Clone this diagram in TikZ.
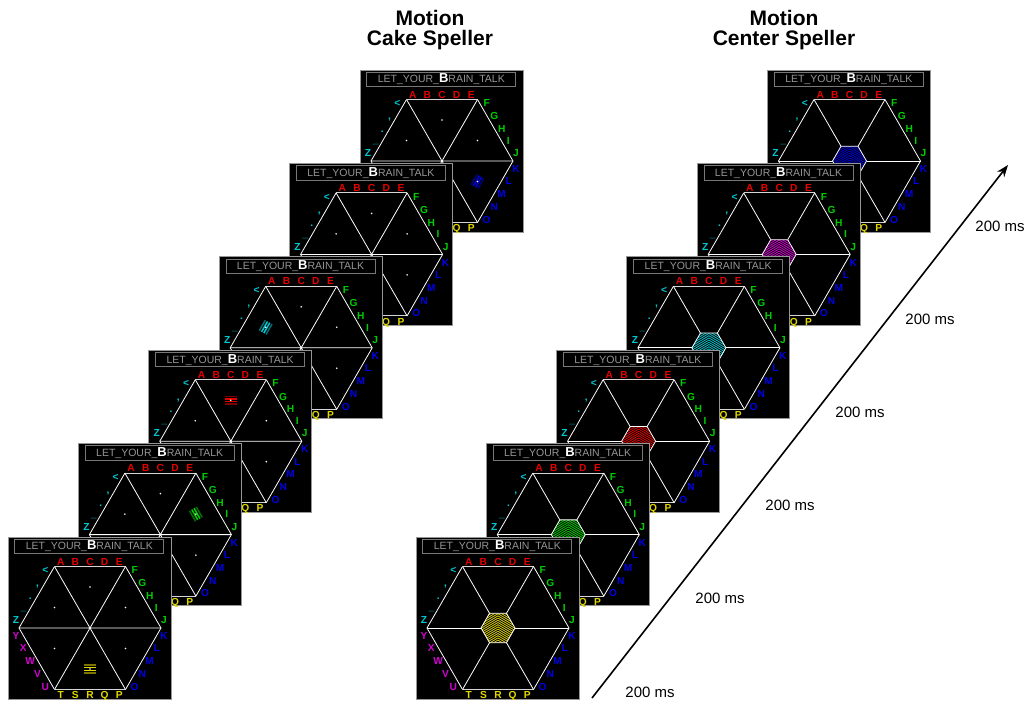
\documentclass[tikz,border=0pt]{standalone}
\usepackage{fontspec}
\setmainfont{Liberation Sans}
\usetikzlibrary{arrows.meta}
\definecolor{SPred}{RGB}{230,0,0}
\definecolor{SPgreen}{RGB}{0,205,0}
\definecolor{SPblue}{RGB}{0,0,230}
\definecolor{SPyellow}{RGB}{225,215,0}
\definecolor{SPmagenta}{RGB}{210,0,210}
\definecolor{SPcyan}{RGB}{0,200,210}
\definecolor{SPgrey}{RGB}{150,150,150}

\tikzset{
  screen/.style={fill=black, draw=SPgrey, line width=1pt},
  titlebox/.style={draw=SPgrey!80!black, line width=0.9pt, minimum width=149pt, minimum height=14.4pt, inner sep=0pt, text=SPgrey, font=\fontsize{10.5}{12}\selectfont},
  hexline/.style={white, line width=0.8pt},
  hexedge/.style={SPgrey!40!white, line width=1pt},
  key/.style={font=\bfseries\fontsize{10.2}{11}\selectfont, inner sep=0pt, text height=7.2pt, text depth=0pt},
  mslabel/.style={font=\fontsize{15}{17}\selectfont},
  heading/.style={font=\bfseries\fontsize{21}{20.7}\selectfont, align=center},
}
\newcommand{\bigB}{\color{white}\bfseries\fontsize{13}{13}\selectfont}

% letters round the hexagon, origin at its centre
\newcommand{\keyboard}[1]{%
  \draw[screen] (-82,-91) rectangle (81,71);
  \node[titlebox] (#1-title) at (-0.7,-81.5) {LET\_YOUR\_{\bigB B}RAIN\_TALK};
  \foreach \ch/\dx [count=\i] in {A/-29.3,B/-14.6,C/0,D/14.6,E/29.3}
    \node[key, SPred] (#1-a\i) at (\dx,-66.5) {\ch};
  \foreach \ch/\dx/\dy [count=\i] in {F/44.7/-58,G/52.4/-44.7,H/59.7/-32,I/66.4/-20.3,J/74/-8}
    \node[key, SPgreen] (#1-b\i) at (\dx,\dy) {\ch};
  \foreach \ch/\dx/\dy [count=\i] in {K/74/8,L/66.7/20.3,M/59.7/33,N/52.4/46,O/44.7/58.7}
    \node[key, SPblue] (#1-c\i) at (\dx,\dy) {\ch};
  \foreach \ch/\dx [count=\i] in {P/29.3,Q/14.6,R/0,S/-14.6,T/-29.3}
    \node[key, SPyellow] (#1-d\i) at (\dx,67) {\ch};
  \foreach \ch/\dx/\dy [count=\i] in {U/-44.7/58.7,V/-52.4/46,W/-59.7/33,X/-66.7/20.3,Y/-74/8}
    \node[key, SPmagenta] (#1-e\i) at (\dx,\dy) {\ch};
  \foreach \ch/\dx/\dy [count=\i] in {Z/-74/-8,\_/-66.4/-21,./-59.7/-32,{,}/-52.4/-44.7,</-44.7/-58}
    \node[key, SPcyan] (#1-f\i) at (\dx,\dy) {\ch};
  % outer hexagon
  \draw[hexline] (300:71) -- (0:71) -- (60:71);
  \draw[hexline] (120:71) -- (180:71) -- (240:71);
  \draw[hexedge] (240:71) -- (300:71);
  \draw[hexedge] (60:71) -- (120:71);
}

% cake screen: name, x, y, angle of flashed piece, colour
\newcommand{\cakepanel}[5]{%
  \begin{scope}[shift={(#2+82,#3+91)}]
    \keyboard{#1}
    \draw[hexline] (0:71) -- (180:71) (60:71) -- (240:71) (120:71) -- (300:71);
    \begin{scope}[shift={(#4:41)}, rotate=-#4]
      \foreach \s/\sh in {-3.9/55,-1.3/100,1.3/100,3.9/55}
        \draw[#5!\sh!black, line width=1.5pt] (\s,-6) -- (\s,6);
    \end{scope}
    \foreach \d in {30,90,...,330}
      \fill[white] (\d:41) circle (0.9pt);
  \end{scope}}

% center screen: name, x, y, colour
\newcommand{\centerpanel}[4]{%
  \begin{scope}[shift={(#2+82,#3+91)}]
    \keyboard{#1}
    \foreach \d in {0,60,...,300}
      \draw[hexline] (\d:71) -- (\d:17);
    \begin{scope}
      \clip (0:17) -- (60:17) -- (120:17) -- (180:17) -- (240:17) -- (300:17) -- cycle;
      \fill[#4] (-20,-20) rectangle (20,20);
      \foreach \s in {-18,...,10}
        \draw[black, line width=0.8pt] (-20,2.2*\s+12) -- (0,2.2*\s) -- (20,2.2*\s+12);
    \end{scope}
    \draw[hexline] (0:17) -- (60:17) -- (120:17) -- (180:17) -- (240:17) -- (300:17) -- cycle;
  \end{scope}}

\begin{document}
\begin{tikzpicture}[x=1pt, y=-1pt, >={Stealth[length=12pt, width=9pt]}]
  \useasboundingbox (0,0) rectangle (1030,704);
  % Motion cake speller, back to front
  \foreach \n/\ang/\col in {5/30/SPblue,4/150/SPmagenta,3/210/SPcyan,2/270/SPred,1/330/SPgreen,0/90/SPyellow}
    \cakepanel{ck\n}{8+70.4*\n}{537-93.4*\n}{\ang}{\col};
  % Motion center speller, back to front
  \foreach \n/\col in {5/SPblue,4/SPmagenta,3/SPcyan,2/SPred,1/SPgreen,0/SPyellow}
    \centerpanel{cn\n}{416+70.3*\n}{537-93.4*\n}{\col};
  % Headings
  \node[heading] (cakehead) at (430,30) {Motion\\Cake Speller};
  \node[heading] (centerhead) at (784,30) {Motion\\Center Speller};
  % Time axis
  \coordinate (tstart) at (592,698);
  \coordinate (tend) at (1008,165);
  \draw[->, line width=1.6pt] (tstart) -- (tend);
  \foreach \n in {0,...,5}
    \node[mslabel] (ms\n) at (650+70*\n,692-93.2*\n) {200 ms};
\end{tikzpicture}
\end{document}
